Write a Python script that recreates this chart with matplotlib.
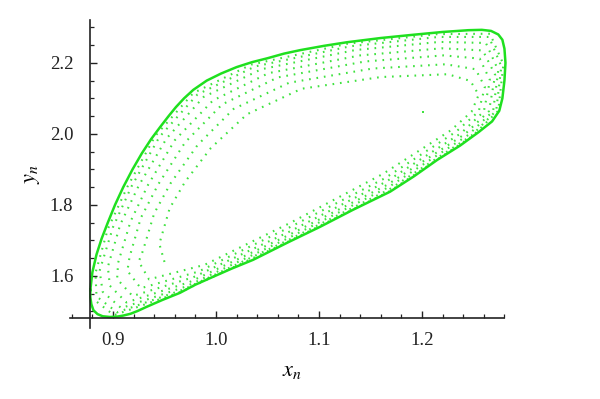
import matplotlib
matplotlib.use("Agg")
import matplotlib.pyplot as plt
from matplotlib.ticker import MultipleLocator

# curva limite (fronteira externa, linha continua)
outer_x = [0.878, 0.880, 0.884, 0.889, 0.895, 0.902, 0.910, 0.919, 0.928, 0.937,
           0.946, 0.954, 0.961, 0.969, 0.978, 0.991, 1.005, 1.020, 1.035, 1.050,
           1.066, 1.082, 1.105, 1.127, 1.160, 1.191, 1.220, 1.245, 1.258, 1.267,
           1.274, 1.278, 1.280, 1.281, 1.280, 1.278, 1.275, 1.268, 1.255, 1.237,
           1.215, 1.192, 1.169, 1.133, 1.101, 1.069, 1.036, 1.015, 0.997, 0.980,
           0.965, 0.948, 0.933, 0.924, 0.917, 0.910, 0.904, 0.897, 0.890, 0.885,
           0.881, 0.879, 0.878, 0.878]
outer_y = [1.560, 1.610, 1.660, 1.705, 1.750, 1.800, 1.850, 1.900, 1.945, 1.985,
           2.020, 2.050, 2.075, 2.100, 2.124, 2.150, 2.170, 2.188, 2.202, 2.213,
           2.226, 2.236, 2.248, 2.258, 2.270, 2.279, 2.287, 2.292, 2.293, 2.290,
           2.280, 2.265, 2.240, 2.200, 2.150, 2.100, 2.065, 2.035, 2.005, 1.967,
           1.927, 1.880, 1.837, 1.786, 1.738, 1.693, 1.645, 1.620, 1.597, 1.575,
           1.552, 1.532, 1.513, 1.501, 1.493, 1.488, 1.485, 1.484, 1.486, 1.492,
           1.503, 1.520, 1.540, 1.560]

# orbita em espiral (pontilhada), uma volta por lista
turn1_x = [0.950, 0.945, 0.955, 0.970, 0.995, 1.030, 1.083, 1.160, 1.225, 1.247,
           1.255, 1.248, 1.228, 1.162, 1.072, 0.989, 0.935, 0.925]
turn1_y = [1.639, 1.690, 1.790, 1.865, 1.960, 2.055, 2.127, 2.160, 2.168, 2.149,
           2.110, 2.062, 2.010, 1.887, 1.749, 1.631, 1.590, 1.640]
turn2_x = [0.929, 0.940, 0.956, 0.982, 1.017, 1.071, 1.152, 1.223, 1.252, 1.261,
           1.255, 1.233, 1.164, 1.071, 0.983, 0.927, 0.914]
turn2_y = [1.670, 1.776, 1.861, 1.968, 2.070, 2.144, 2.184, 2.196, 2.182, 2.132,
           2.063, 2.006, 1.875, 1.736, 1.612, 1.565, 1.614]
turn3_x = [0.916, 0.927, 0.944, 0.970, 1.006, 1.060, 1.145, 1.221, 1.256, 1.266,
           1.260, 1.238, 1.165, 1.071, 0.978, 0.919, 0.904]
turn3_y = [1.652, 1.763, 1.858, 1.976, 2.083, 2.159, 2.204, 2.221, 2.212, 2.151,
           2.063, 2.002, 1.865, 1.724, 1.596, 1.543, 1.591]
turn4_x = [0.905, 0.917, 0.934, 0.960, 0.997, 1.051, 1.140, 1.219, 1.259, 1.271,
           1.265, 1.242, 1.166, 1.070, 0.974, 0.913, 0.897]
turn4_y = [1.637, 1.753, 1.856, 1.982, 2.094, 2.171, 2.221, 2.241, 2.235, 2.166,
           2.064, 2.000, 1.856, 1.714, 1.582, 1.525, 1.572]
turn5_x = [0.895, 0.907, 0.925, 0.952, 0.988, 1.044, 1.135, 1.217, 1.262, 1.274,
           1.269, 1.245, 1.167, 1.070, 0.971, 0.908, 0.890]
turn5_y = [1.625, 1.744, 1.854, 1.987, 2.104, 2.182, 2.236, 2.259, 2.256, 2.179,
           2.064, 1.997, 1.849, 1.706, 1.570, 1.509, 1.555]
turn6_x = [0.887, 0.900, 0.918, 0.945, 0.982, 1.038, 1.131, 1.216, 1.265, 1.277,
           1.272, 1.248, 1.168, 1.069, 0.968, 0.904, 0.884]
turn6_y = [1.614, 1.737, 1.852, 1.991, 2.111, 2.190, 2.247, 2.273, 2.273, 2.190,
           2.065, 1.995, 1.843, 1.699, 1.561, 1.497, 1.542]
turn7_x = [0.883, 0.895, 0.914, 0.941, 0.978, 1.034, 1.128, 1.215, 1.266, 1.279,
           1.274, 1.249, 1.169, 1.069, 0.966, 0.901, 0.881]
turn7_y = [1.608, 1.732, 1.851, 1.994, 2.115, 2.195, 2.254, 2.281, 2.282, 2.196,
           2.065, 1.994, 1.839, 1.695, 1.555, 1.489, 1.534]

# ponto isolado no interior
start_x = [1.201]
start_y = [2.062]

x_ticks = [0.9, 1.0, 1.1, 1.2]
y_ticks = [1.6, 1.8, 2.0, 2.2]

GREEN = "#1fe01f"
DOT_GREEN = "#3fe23f"

plt.rcParams["font.family"] = ["Liberation Serif", "DejaVu Serif"]
plt.rcParams["mathtext.fontset"] = "stix"

fig = plt.figure(figsize=(6.0, 3.99), dpi=100)
ax = fig.add_axes([0.1162, 0.178, 0.7417, 0.773])

turns_x = [turn1_x, turn2_x, turn3_x, turn4_x, turn5_x, turn6_x, turn7_x]
turns_y = [turn1_y, turn2_y, turn3_y, turn4_y, turn5_y, turn6_y, turn7_y]
spiral_x = [v for t in turns_x for v in t]
spiral_y = [v for t in turns_y for v in t]
ax.plot(spiral_x, spiral_y, color=DOT_GREEN, lw=1.5, linestyle=(0, (0.8, 2.8)),
        dash_capstyle="butt")
ax.plot(outer_x, outer_y, color=GREEN, lw=1.8, solid_joinstyle="round")
ax.plot(start_x, start_y, "s", color=DOT_GREEN, ms=1.5, mew=0)

ax.set_xlim(0.858, 1.29)
ax.set_ylim(1.453, 2.322)

for side in ["top", "right"]:
    ax.spines[side].set_visible(False)
ax.spines["left"].set_position(("data", 0.8777))
ax.spines["bottom"].set_position(("data", 1.482))
ax.spines["left"].set_bounds(1.453, 2.321)
ax.spines["bottom"].set_bounds(0.858, 1.280)
for side in ["left", "bottom"]:
    ax.spines[side].set_color("#222222")
    ax.spines[side].set_linewidth(1.2)

ax.set_xticks(x_ticks)
ax.set_yticks(y_ticks)
ax.set_xticklabels([f"{v:.1f}" for v in x_ticks])
ax.set_yticklabels([f"{v:.1f}" for v in y_ticks])
ax.xaxis.set_minor_locator(MultipleLocator(0.02))
ax.yaxis.set_minor_locator(MultipleLocator(0.05))
ax.tick_params(which="major", direction="in", length=5, width=1.0, labelsize=13.5,
               colors="#222222")
ax.tick_params(which="minor", direction="in", length=3, width=0.9, colors="#222222")
ax.tick_params(axis="y", which="major", pad=12)
ax.tick_params(axis="x", which="major", pad=10)

ax.set_xlabel("$x_n$", fontsize=16, labelpad=10)
ax.set_ylabel("$y_n$", fontsize=16, labelpad=6)

fig.savefig("out.png", dpi=100)
